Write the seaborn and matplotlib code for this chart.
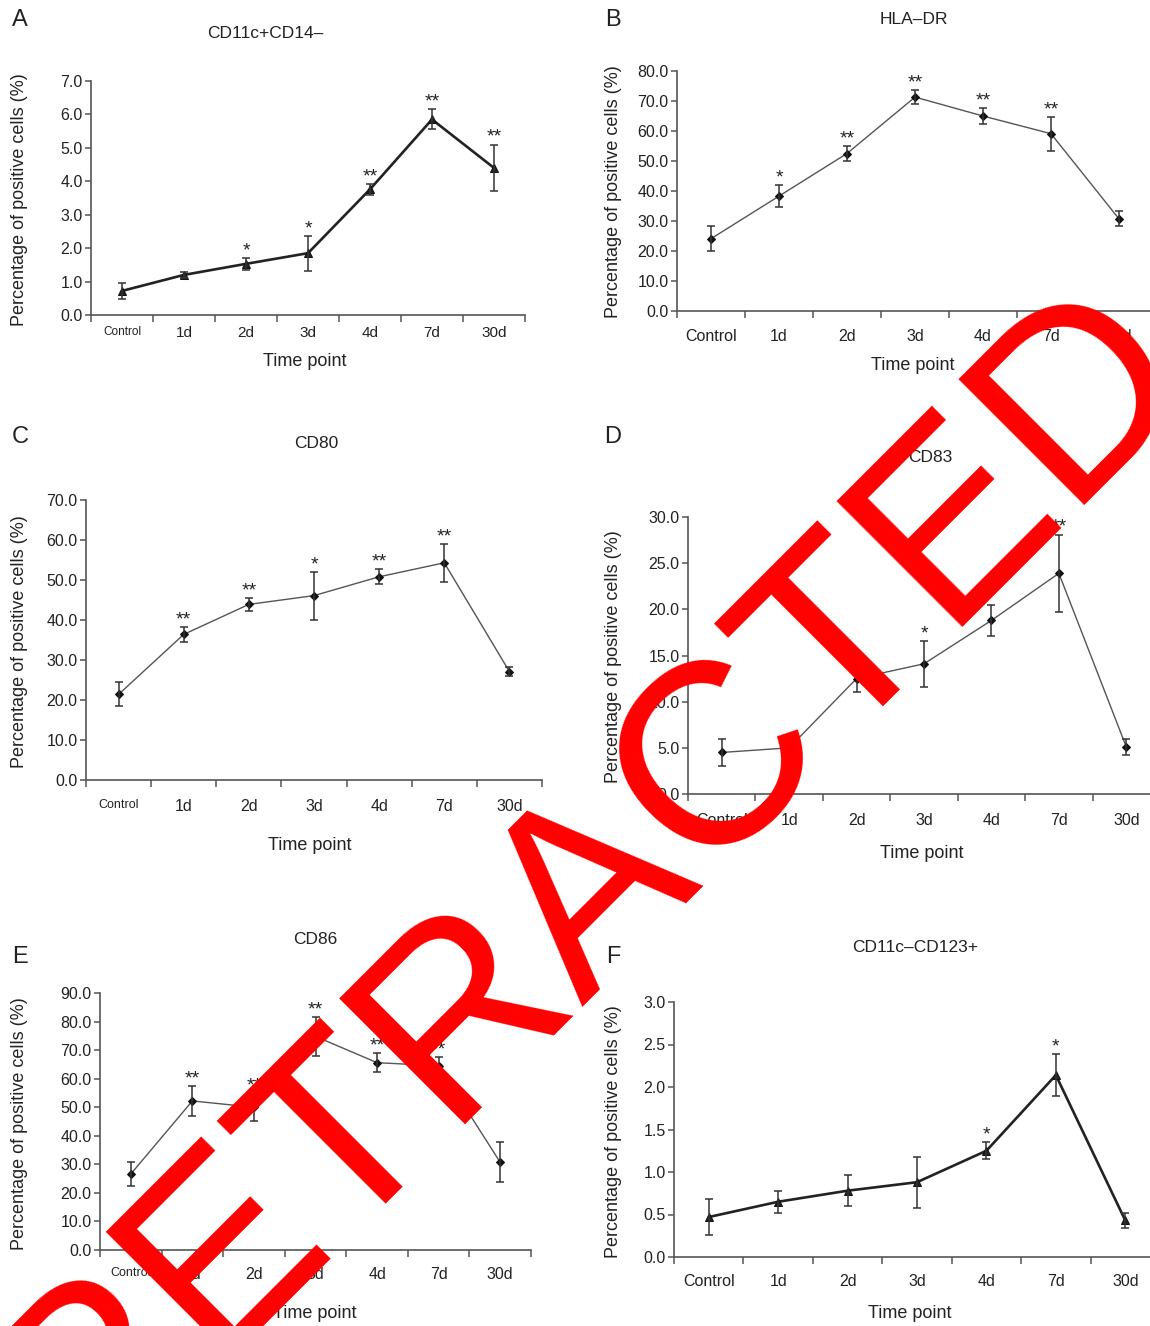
import numpy as np
import pandas as pd
import seaborn as sns
import matplotlib.pyplot as plt

# Time points shared by all panels
timepoints = ['Control', '1d', '2d', '3d', '4d', '7d', '30d']

# A: CD11c+CD14-
cd14_mean = [0.72, 1.20, 1.53, 1.85, 3.76, 5.85, 4.40]
cd14_err = [0.25, 0.09, 0.17, 0.52, 0.17, 0.30, 0.70]
cd14_sig = ['', '', '*', '*', '**', '**', '**']

# B: HLA-DR
hla_mean = [24.1, 38.3, 52.5, 71.3, 65.0, 59.1, 30.7]
hla_err = [4.1, 3.6, 2.5, 2.3, 2.7, 5.7, 2.5]
hla_sig = ['', '*', '**', '**', '**', '**', '']

# C: CD80
cd80_mean = [21.4, 36.4, 43.9, 46.1, 50.8, 54.3, 27.1]
cd80_err = [3.0, 1.8, 1.7, 6.0, 1.9, 4.7, 1.2]
cd80_sig = ['', '**', '**', '*', '**', '**', '']

# D: CD83
cd83_mean = [4.5, 5.0, 12.5, 14.1, 18.8, 23.9, 5.1]
cd83_err = [1.45, 1.0, 1.4, 2.5, 1.7, 4.2, 0.9]
cd83_sig = ['', '', '', '*', '', '**', '']

# E: CD86
cd86_mean = [26.6, 52.2, 50.0, 74.8, 65.6, 64.5, 30.7]
cd86_err = [4.3, 5.2, 4.8, 6.8, 3.4, 3.1, 7.0]
cd86_sig = ['', '**', '**', '**', '**', '**', '']

# F: CD11c-CD123+
cd123_mean = [0.47, 0.65, 0.78, 0.88, 1.25, 2.14, 0.43]
cd123_err = [0.21, 0.13, 0.18, 0.30, 0.10, 0.25, 0.09]
cd123_sig = ['', '', '', '', '*', '*', '']

W, H = 1150, 1326
TXT = '#222222'

sns.set_style('ticks')
plt.rcParams['font.family'] = ['Liberation Sans', 'DejaVu Sans']
plt.rcParams['text.color'] = TXT


def px_rect(x0, y0, x1, y1):
    return [x0 / W, 1 - y1 / H, (x1 - x0) / W, (y1 - y0) / H]


def fig_text(fig, x, y, s, **kw):
    return fig.text(x / W, 1 - y / H, s, ha='center', va='center', **kw)


def draw_panel(fig, rect, mean, err, sig, ymax, ystep, thick, tick_fs, ctrl_fs, pad):
    ax = fig.add_axes(rect)
    x = np.arange(len(timepoints))
    df = pd.DataFrame({'x': x, 'y': mean})
    if thick:
        sns.lineplot(data=df, x='x', y='y', ax=ax, color='#222222', lw=1.9,
                     marker='^', markersize=5.5, markeredgecolor='#111111')
    else:
        sns.lineplot(data=df, x='x', y='y', ax=ax, color='#555555', lw=1.0,
                     marker='D', markersize=4.5, markeredgecolor='#111111',
                     markerfacecolor='#111111')
    ax.errorbar(x, mean, yerr=err, fmt='none', ecolor='#333333',
                elinewidth=1.1, capsize=3.2, capthick=1.1)
    # significance stars above the error bars
    for i, s in enumerate(sig):
        if s:
            ax.annotate(s, (i, mean[i] + err[i]), xytext=(0, -1),
                        textcoords='offset points', ha='center', va='bottom',
                        fontsize=14, color=TXT)

    ax.set_xlim(-0.5, len(timepoints) - 0.5)
    ax.set_ylim(0, ymax)
    ax.set_xticks(np.arange(-0.5, len(timepoints), 1))
    ax.set_xticklabels([])
    ax.set_xticks(x, minor=True)
    ax.set_xticklabels(timepoints, minor=True)
    yt = np.arange(0, ymax + ystep / 2, ystep)
    ax.set_yticks(yt)
    ax.set_yticklabels([f'{v:.1f}' for v in yt], fontsize=11.5, color=TXT)
    ax.tick_params(axis='x', which='major', length=5, width=1.1, color='#555555',
                   direction='out')
    ax.tick_params(axis='x', which='minor', length=0, pad=pad, labelsize=tick_fs,
                   labelcolor=TXT)
    ax.tick_params(axis='y', length=4, width=1.1, color='#555555', pad=2)
    ax.get_xticklabels(minor=True)[0].set_fontsize(ctrl_fs)
    for sp in ['top', 'right']:
        ax.spines[sp].set_visible(False)
    for sp in ['left', 'bottom']:
        ax.spines[sp].set_color('#555555')
        ax.spines[sp].set_linewidth(1.2)
    ax.set_xlabel('')
    ax.set_ylabel('')
    return ax


fig = plt.figure(figsize=(W / 100, H / 100), dpi=100)

draw_panel(fig, px_rect(91, 81, 525, 315), cd14_mean, cd14_err, cd14_sig,
           7.0, 1.0, True, 11, 8.5, 8)
draw_panel(fig, px_rect(677, 71, 1153, 311), hla_mean, hla_err, hla_sig,
           80.0, 10.0, False, 11.5, 11.5, 13)
draw_panel(fig, px_rect(86, 500, 542, 780), cd80_mean, cd80_err, cd80_sig,
           70.0, 10.0, False, 11.5, 9, 14)
draw_panel(fig, px_rect(688, 517, 1160, 794), cd83_mean, cd83_err, cd83_sig,
           30.0, 5.0, False, 11.5, 11.5, 14)
draw_panel(fig, px_rect(100, 993, 531, 1250), cd86_mean, cd86_err, cd86_sig,
           90.0, 10.0, False, 11.5, 9, 12)
draw_panel(fig, px_rect(674, 1002, 1160, 1257), cd123_mean, cd123_err, cd123_sig,
           3.0, 0.5, True, 11.5, 11.5, 12)

# panel letters, titles, axis labels
letters = [('A', 20, 20), ('B', 613, 20), ('C', 20, 437),
           ('D', 613, 437), ('E', 20, 957), ('F', 613, 957)]
for s, lx, ly in letters:
    fig_text(fig, lx, ly, s, fontsize=17)

titles = [('CD11c+CD14\u2013', 265, 33), ('HLA\u2013DR', 914, 20), ('CD80', 316, 444),
          ('CD83', 930, 458), ('CD86', 315, 940), ('CD11c\u2013CD123+', 915, 947)]
for s, tx, ty in titles:
    fig_text(fig, tx, ty, s, fontsize=12.5)

for tx, ty in [(305, 362), (913, 365), (310, 845), (922, 853), (315, 1314), (910, 1314)]:
    fig_text(fig, tx, ty, 'Time point', fontsize=13)

for tx, ty in [(20, 200), (614, 192), (20, 642), (614, 657), (20, 1124), (614, 1132)]:
    fig_text(fig, tx, ty, 'Percentage of positive cells (%)', fontsize=13, rotation=90)

# retraction watermark
fig_text(fig, 591, 884, 'RETRACTED', fontsize=186, color='#ff0000', rotation=45,
         rotation_mode='anchor', zorder=100)

fig.savefig('out.png', dpi=100)
